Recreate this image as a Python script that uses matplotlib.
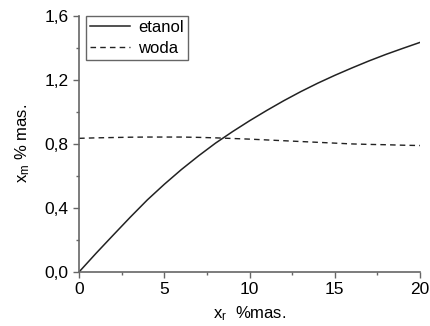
import matplotlib.pyplot as plt
from matplotlib.ticker import MultipleLocator, FuncFormatter

# stezenie w fazie rafinatu, % mas.
x_r = [0, 1, 2, 3, 4, 5, 6, 7, 8, 9, 10, 11, 12, 13, 14, 15, 16, 17, 18, 19, 20]
etanol = [0.0, 0.117, 0.23, 0.342, 0.45, 0.548, 0.64, 0.725, 0.805, 0.877, 0.945,
          1.009, 1.07, 1.127, 1.18, 1.229, 1.275, 1.319, 1.36, 1.398, 1.435]
woda = [0.835, 0.838, 0.84, 0.842, 0.843, 0.843, 0.843, 0.841, 0.838, 0.834, 0.83,
        0.825, 0.82, 0.815, 0.81, 0.805, 0.80, 0.797, 0.795, 0.792, 0.79]

plt.rcParams['font.family'] = ['Liberation Sans', 'DejaVu Sans']
plt.rcParams['mathtext.default'] = 'regular'

fig = plt.figure(figsize=(4.3, 3.26), dpi=100)
ax = fig.add_axes([0.184, 0.166, 0.793, 0.785])

ax.plot(x_r, etanol, color='#222222', lw=1.1, label='etanol')
ax.plot(x_r, woda, color='#222222', lw=1.0, ls=(0, (4, 3)), label='woda')

ax.set_xlim(0, 20)
ax.set_ylim(0, 1.6)
ax.xaxis.set_major_locator(MultipleLocator(5))
ax.xaxis.set_minor_locator(MultipleLocator(2.5))
ax.yaxis.set_major_locator(MultipleLocator(0.4))
ax.yaxis.set_minor_locator(MultipleLocator(0.2))
ax.yaxis.set_major_formatter(FuncFormatter(lambda v, p: f'{v:.1f}'.replace('.', ',')))

for s in ['top', 'right']:
    ax.spines[s].set_visible(False)
for s in ['left', 'bottom']:
    ax.spines[s].set_color('#666666')
    ax.spines[s].set_linewidth(1.2)
ax.tick_params(which='major', length=4, width=1, color='#666666', labelsize=12.5)
ax.tick_params(which='minor', length=2, width=1, color='#666666')

ax.set_xlabel(r'x$_{r}$  %mas.', fontsize=12, labelpad=5)
ax.set_ylabel(r'x$_{m}$ % mas.', fontsize=12, labelpad=9)

leg = ax.legend(loc='upper left', bbox_to_anchor=(0.02, 1.0), borderaxespad=0,
                fontsize=12, handlelength=2.4, handletextpad=0.5, fancybox=False,
                framealpha=1, edgecolor='#666666', borderpad=0.25, labelspacing=0.35)
leg.get_frame().set_linewidth(1.0)

fig.savefig('out.png', dpi=100)
